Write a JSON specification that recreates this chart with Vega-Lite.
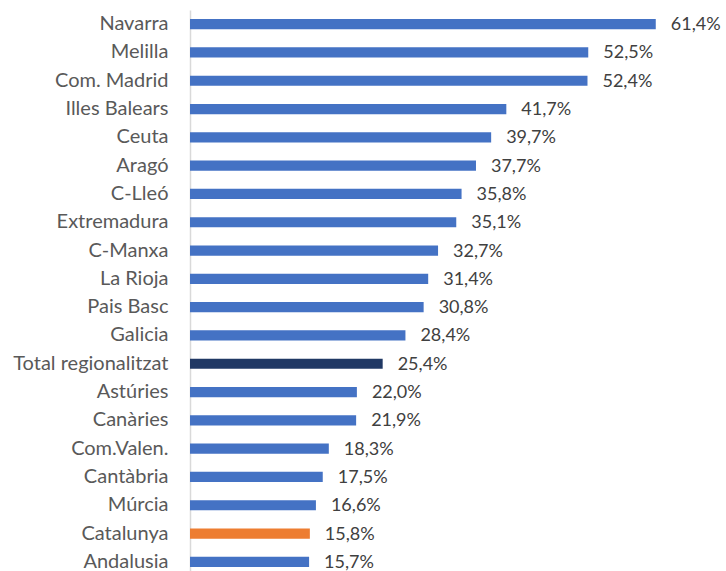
{
  "$schema": "https://vega.github.io/schema/vega-lite/v6.json",
  "width": 531,
  "height": 566,
  "autosize": {"type": "none"},
  "padding": {"left": 190, "top": 10, "right": 0, "bottom": 0},
  "background": "white",
  "config": {
    "view": {"stroke": null},
    "locale": {"number": {"decimal": ",", "thousands": ".", "grouping": [3], "currency": ["", " €"]}},
    "font": "Lato"
  },
  "data": {
    "values": [
      {"region": "Navarra", "value": 0.614, "grp": "r"},
      {"region": "Melilla", "value": 0.525, "grp": "r"},
      {"region": "Com. Madrid", "value": 0.524, "grp": "r"},
      {"region": "Illes Balears", "value": 0.417, "grp": "r"},
      {"region": "Ceuta", "value": 0.397, "grp": "r"},
      {"region": "Aragó", "value": 0.377, "grp": "r"},
      {"region": "C-Lleó", "value": 0.358, "grp": "r"},
      {"region": "Extremadura", "value": 0.351, "grp": "r"},
      {"region": "C-Manxa", "value": 0.327, "grp": "r"},
      {"region": "La Rioja", "value": 0.314, "grp": "r"},
      {"region": "Pais Basc", "value": 0.308, "grp": "r"},
      {"region": "Galicia", "value": 0.284, "grp": "r"},
      {"region": "Total regionalitzat", "value": 0.254, "grp": "t"},
      {"region": "Astúries", "value": 0.220, "grp": "r"},
      {"region": "Canàries", "value": 0.219, "grp": "r"},
      {"region": "Com.Valen.", "value": 0.183, "grp": "r"},
      {"region": "Cantàbria", "value": 0.175, "grp": "r"},
      {"region": "Múrcia", "value": 0.166, "grp": "r"},
      {"region": "Catalunya", "value": 0.158, "grp": "c"},
      {"region": "Andalusia", "value": 0.157, "grp": "r"}
    ]
  },
  "encoding": {
    "y": {
      "field": "region", "type": "nominal", "sort": null, "title": null,
      "scale": {"paddingInner": 0.64, "paddingOuter": 0.32},
      "axis": {
        "ticks": false, "labelPadding": 22, "labelFontSize": 20, "labelColor": "#595959",
        "labelFont": "Lato", "domainColor": "#d9d9d9", "domainWidth": 1.5, "labelLimit": 300
      }
    },
    "x": {
      "field": "value", "type": "quantitative",
      "scale": {"domain": [0, 0.7], "nice": false},
      "axis": null
    }
  },
  "layer": [
    {
      "mark": {"type": "bar"},
      "encoding": {
        "color": {
          "field": "grp", "type": "nominal", "legend": null,
          "scale": {"domain": ["r", "t", "c"], "range": ["#4472C4", "#203864", "#ED7D31"]}
        }
      }
    },
    {
      "mark": {"type": "text", "align": "left", "baseline": "middle", "dx": 15, "dy": 1, "fontSize": 18, "color": "#404040", "font": "Lato"},
      "encoding": {
        "text": {"field": "value", "type": "quantitative", "format": ".1%"}
      }
    }
  ]
}
